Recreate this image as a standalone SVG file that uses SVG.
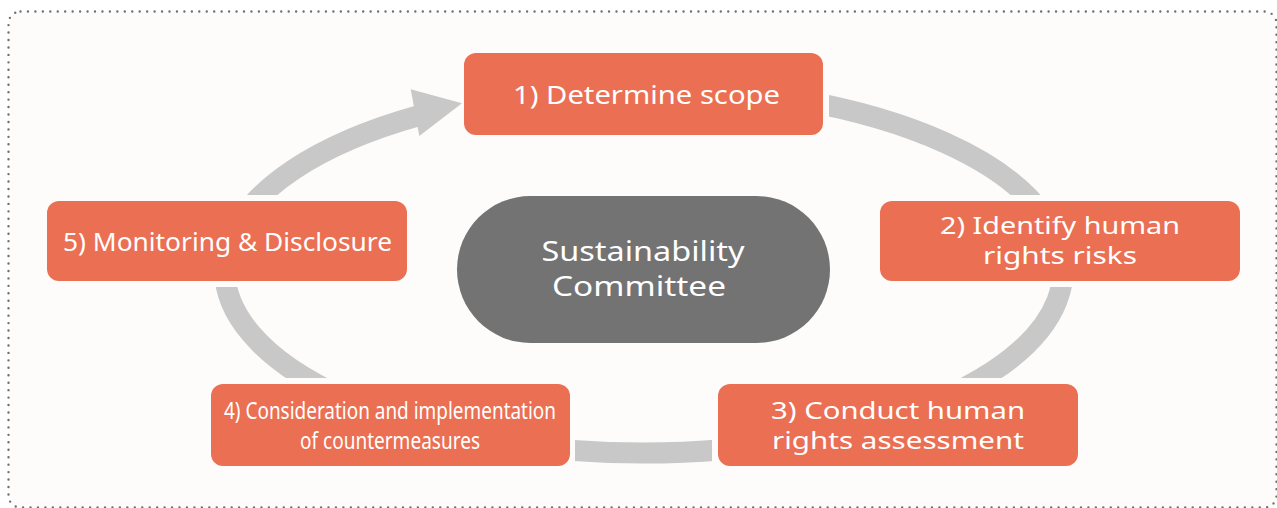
<svg xmlns="http://www.w3.org/2000/svg" width="1277" height="508" viewBox="0 0 1277 508">
  <style>
    .node { fill: #EB6F53; }
    .lbl { fill: #FFFFFF; font-family: "Noto Sans", "Liberation Sans", "Noto Sans CJK JP", sans-serif; font-size: 26px; text-anchor: middle; }
    .two { font-size: 24px; }
    .tight { font-size: 23px; }
    .narrow { font-size: 23px; }
    .center { fill: #FFFFFF; font-family: "Noto Sans", "Liberation Sans", "Noto Sans CJK JP", sans-serif; font-size: 27px; text-anchor: middle; }
    .ring { fill: none; stroke: #C8C8C8; stroke-width: 21; }
  </style>
  <defs>
    <mask id="gaps" maskUnits="userSpaceOnUse" x="0" y="0" width="1277" height="508">
      <rect x="0" y="0" width="1277" height="508" fill="#FFFFFF"/>
      <rect x="458" y="47" width="371" height="94" fill="#000000"/>
      <rect x="874" y="195" width="372" height="92" fill="#000000"/>
      <rect x="712" y="378" width="372" height="94" fill="#000000"/>
      <rect x="205" y="378" width="370" height="94" fill="#000000"/>
      <rect x="41" y="195" width="372" height="92" fill="#000000"/>
    </mask>
  </defs>

  <rect id="frame" x="8.5" y="11.5" width="1268" height="496" rx="12" ry="12" fill="#FDFCFA" stroke="#6F6F6F" stroke-width="2.4" stroke-dasharray="0 7.45" stroke-linecap="round"/>

  <g id="connectors">
    <path class="ring" mask="url(#gaps)" d="M 800 100.2 A 419 183 0 1 1 418 115.9"/>
    <polygon points="410.7,89.3 462,103.3 419.3,136" fill="#C8C8C8"/>
  </g>

  <g id="committee">
    <rect x="457" y="196" width="373" height="147" rx="73.5" ry="73.5" fill="#737373"/>
    <text class="center" x="643" y="261" textLength="203" lengthAdjust="spacingAndGlyphs">Sustainability</text>
    <text class="center" x="639" y="296" textLength="174" lengthAdjust="spacingAndGlyphs">Committee</text>
  </g>

  <g id="step1">
    <rect class="node" x="464" y="53" width="359" height="82" rx="12" ry="12"/>
    <text class="lbl" x="646.5" y="103.5" textLength="267" lengthAdjust="spacingAndGlyphs">1) Determine scope</text>
  </g>

  <g id="step2">
    <rect class="node" x="880" y="201" width="360" height="80" rx="12" ry="12"/>
    <text class="lbl tight" x="1060" y="234" textLength="240" lengthAdjust="spacingAndGlyphs">2) Identify human</text>
    <text class="lbl tight" x="1060" y="264" textLength="154" lengthAdjust="spacingAndGlyphs">rights risks</text>
  </g>

  <g id="step3">
    <rect class="node" x="718" y="384" width="360" height="82" rx="12" ry="12"/>
    <text class="lbl two" x="898" y="419" textLength="254" lengthAdjust="spacingAndGlyphs">3) Conduct human</text>
    <text class="lbl two" x="898" y="449" textLength="252" lengthAdjust="spacingAndGlyphs">rights assessment</text>
  </g>

  <g id="step4">
    <rect class="node" x="211" y="384" width="359" height="82" rx="12" ry="12"/>
    <text class="lbl narrow" x="390" y="419" textLength="332" lengthAdjust="spacingAndGlyphs">4) Consideration and implementation</text>
    <text class="lbl narrow" x="390" y="449" textLength="180" lengthAdjust="spacingAndGlyphs">of countermeasures</text>
  </g>

  <g id="step5">
    <rect class="node" x="47" y="201" width="360" height="80" rx="12" ry="12"/>
    <text class="lbl" x="227.5" y="251" textLength="329" lengthAdjust="spacingAndGlyphs">5) Monitoring &amp; Disclosure</text>
  </g>
</svg>
